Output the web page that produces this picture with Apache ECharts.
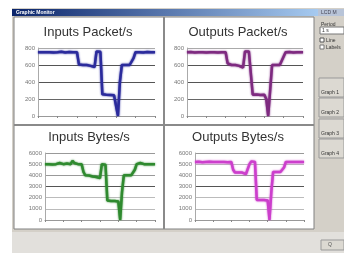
<!DOCTYPE html>
<html>
<head>
<meta charset="utf-8">
<style>
  html, body { margin: 0; padding: 0; background: #fff; }
  #main { width: 344px; height: 253px; }
</style>
</head>
<body>
<div id="main"></div>
<script src="https://cdn.jsdelivr.net/npm/echarts@6/dist/echarts.min.js"></script>
<script>
  // time steps (61 samples, ticks every 10)
  var steps = [];
  for (var i = 0; i <= 60; i++) steps.push(String(i));

  var inPackets = [750,752,750,748,750,755,750,750,748,752,750,750,755,750,748,750,752,750,750,748,750,
    605,600,600,598,600,595,590,585,575,
    760,760,755,
    255,255,250,250,248,250,245,
    230,0,400,
    600,600,600,602,600,600,
    680,
    750,752,750,750,748,750,752,750,750,748,750];

  var outPackets = [750,750,752,750,748,750,750,752,750,750,748,750,750,752,750,750,748,750,750,752,750,
    620,600,600,598,600,595,590,580,570,
    760,760,760,755,
    250,250,252,250,248,250,250,
    200,0,300,
    600,600,600,602,600,600,
    700,
    750,750,752,750,748,750,750,752,750,750];

  var inBytes = [5000,5020,5000,5000,4980,5050,5000,5000,5100,5050,5000,5000,5050,5000,5000,5300,5100,5000,5000,4980,5000,
    4300,
    4000,4000,3980,3950,3900,3900,3850,3800,3750,
    5000,5000,4950,
    1750,1700,1700,1700,1700,1700,
    1650,0,2500,
    4000,4000,4000,4050,4000,4000,
    4500,
    5000,5000,5100,5050,5000,5000,5000,4980,5000,5000,5000];

  var outBytes = [5200,5200,5220,5200,5180,5200,5200,5200,5220,5200,5200,5180,5200,5200,5200,5220,5200,5200,5180,5200,5200,
    4500,
    4250,4250,4250,4200,4250,4200,4100,4000,
    5000,
    5250,5250,5200,
    1800,1800,1800,1800,1800,1800,
    1750,0,2500,
    4300,4300,4300,4300,4300,4300,
    4700,
    5200,5200,5200,5220,5200,5200,5200,5180,5200,5200,5200];

  var titles = ['Inputs Packet/s', 'Outputs Packet/s', 'Inputs Bytes/s', 'Outputs Bytes/s'];
  var colors = ['#2b2b9c', '#7e2a80', '#2f8a2f', '#cc3fcc'];

  var grids = [
    { left: 38, top: 48, width: 117, height: 68 },
    { left: 187, top: 48, width: 116, height: 68 },
    { left: 45, top: 153, width: 110, height: 67 },
    { left: 195, top: 153, width: 109, height: 67 }
  ];
  var titlePos = [[88, 26], [238, 26], [89, 131], [238, 131]];
  var packetLines = ['#999', '#666', '#555', '#555', '#aaa'];
  var byteLines = ['#999', '#bbb', '#bbb', '#555', '#999', '#bbb', '#999'];

  var xAxes = [], yAxes = [], series = [], titleOpts = [];
  var datas = [inPackets, outPackets, inBytes, outBytes];
  for (var k = 0; k < 4; k++) {
    var packets = k < 2;
    titleOpts.push({
      text: titles[k], left: titlePos[k][0], top: titlePos[k][1], textAlign: 'center', padding: 0,
      textStyle: { fontFamily: 'Liberation Sans', fontSize: 13, fontWeight: 'normal', color: '#333' }
    });
    xAxes.push({
      type: 'category', gridIndex: k, data: steps, boundaryGap: false,
      axisLine: { lineStyle: { color: '#999', width: 1 } },
      axisTick: { interval: 9, length: 2, inside: false, lineStyle: { color: '#888' } },
      axisLabel: { show: false }
    });
    yAxes.push({
      type: 'value', gridIndex: k, min: 0, max: packets ? 800 : 6000, interval: packets ? 200 : 1000,
      axisLine: { show: true, lineStyle: { color: '#aaa' } },
      axisTick: { show: false },
      axisLabel: { fontFamily: 'Liberation Sans', fontSize: 6, color: '#777', margin: 3,
        formatter: function (v) { return String(v); } },
      splitLine: { lineStyle: { color: packets ? packetLines : byteLines, width: 1 } }
    });
    series.push({
      type: 'line', xAxisIndex: k, yAxisIndex: k, data: datas[k], symbol: 'none',
      lineStyle: { color: colors[k], width: 2.5, shadowColor: colors[k], shadowBlur: 2 }
    });
  }

  var chart = echarts.init(document.getElementById('main'));
  chart.setOption({
    animation: false,
    backgroundColor: '#fff',
    title: titleOpts,
    grid: grids,
    xAxis: xAxes,
    yAxis: yAxes,
    series: series,
    graphic: [
      { type: 'rect', z: -10, shape: { x: 12, y: 8, width: 332, height: 245 }, style: { fill: '#d4d0c8' } },
      { type: 'rect', z: -9, shape: { x: 12, y: 232, width: 332, height: 21 }, style: { fill: '#e2e0dc' } },
      { type: 'rect', z: -9, shape: { x: 12, y: 9, width: 306, height: 7 },
        style: { fill: new echarts.graphic.LinearGradient(0, 0, 1, 0, [{ offset: 0, color: '#0a246a' }, { offset: 1, color: '#a6caf0' }]) } },
      { type: 'text', z: -8, style: { x: 16, y: 12.5, text: 'Graphic Monitor', fill: '#fff', font: 'bold 5px Liberation Sans', verticalAlign: 'middle' } },
      { type: 'rect', z: -9, shape: { x: 318, y: 9, width: 26, height: 7 }, style: { fill: '#b8c4d8' } },
      { type: 'text', z: -8, style: { x: 321, y: 12.5, text: 'LCD M', fill: '#445', font: '5px Liberation Sans', verticalAlign: 'middle' } },
      { type: 'rect', z: -8, shape: { x: 14, y: 17, width: 300, height: 212 }, style: { fill: '#fff', stroke: '#808080', lineWidth: 1 } },
      { type: 'line', z: -7, shape: { x1: 164, y1: 17, x2: 164, y2: 229 }, style: { stroke: '#8a8a8a', lineWidth: 2 } },
      { type: 'line', z: -7, shape: { x1: 14, y1: 125, x2: 314, y2: 125 }, style: { stroke: '#8a8a8a', lineWidth: 2 } },
      // side controls
      { type: 'text', style: { x: 321, y: 22, text: 'Period', fill: '#333', font: '5px Liberation Sans' } },
      { type: 'rect', shape: { x: 320, y: 27, width: 24, height: 7 }, style: { fill: '#fff', stroke: '#777' } },
      { type: 'text', style: { x: 322, y: 28, text: '1 s', fill: '#333', font: '5px Liberation Sans' } },
      { type: 'rect', shape: { x: 320, y: 38, width: 4, height: 4 }, style: { fill: '#fff', stroke: '#555' } },
      { type: 'text', style: { x: 326, y: 38, text: 'Line', fill: '#333', font: '5px Liberation Sans' } },
      { type: 'rect', shape: { x: 320, y: 45, width: 4, height: 4 }, style: { fill: '#fff', stroke: '#777' } },
      { type: 'text', style: { x: 326, y: 45, text: 'Labels', fill: '#333', font: '5px Liberation Sans' } },
      { type: 'rect', shape: { x: 319, y: 78, width: 25, height: 19 }, style: { fill: '#dcd9d2', stroke: '#999' } },
      { type: 'text', style: { x: 321, y: 90, text: 'Graph 1', fill: '#333', font: '5px Liberation Sans' } },
      { type: 'rect', shape: { x: 319, y: 98, width: 25, height: 19 }, style: { fill: '#dcd9d2', stroke: '#999' } },
      { type: 'text', style: { x: 321, y: 110, text: 'Graph 2', fill: '#333', font: '5px Liberation Sans' } },
      { type: 'rect', shape: { x: 319, y: 119, width: 25, height: 19 }, style: { fill: '#dcd9d2', stroke: '#999' } },
      { type: 'text', style: { x: 321, y: 131, text: 'Graph 3', fill: '#333', font: '5px Liberation Sans' } },
      { type: 'rect', shape: { x: 319, y: 139, width: 25, height: 19 }, style: { fill: '#dcd9d2', stroke: '#999' } },
      { type: 'text', style: { x: 321, y: 151, text: 'Graph 4', fill: '#333', font: '5px Liberation Sans' } },
      { type: 'rect', shape: { x: 321, y: 240, width: 23, height: 10 }, style: { fill: '#dcd9d2', stroke: '#999' } },
      { type: 'text', style: { x: 328, y: 242, text: 'Q', fill: '#555', font: '5px Liberation Sans' } }
    ]
  });
</script>
</body>
</html>
